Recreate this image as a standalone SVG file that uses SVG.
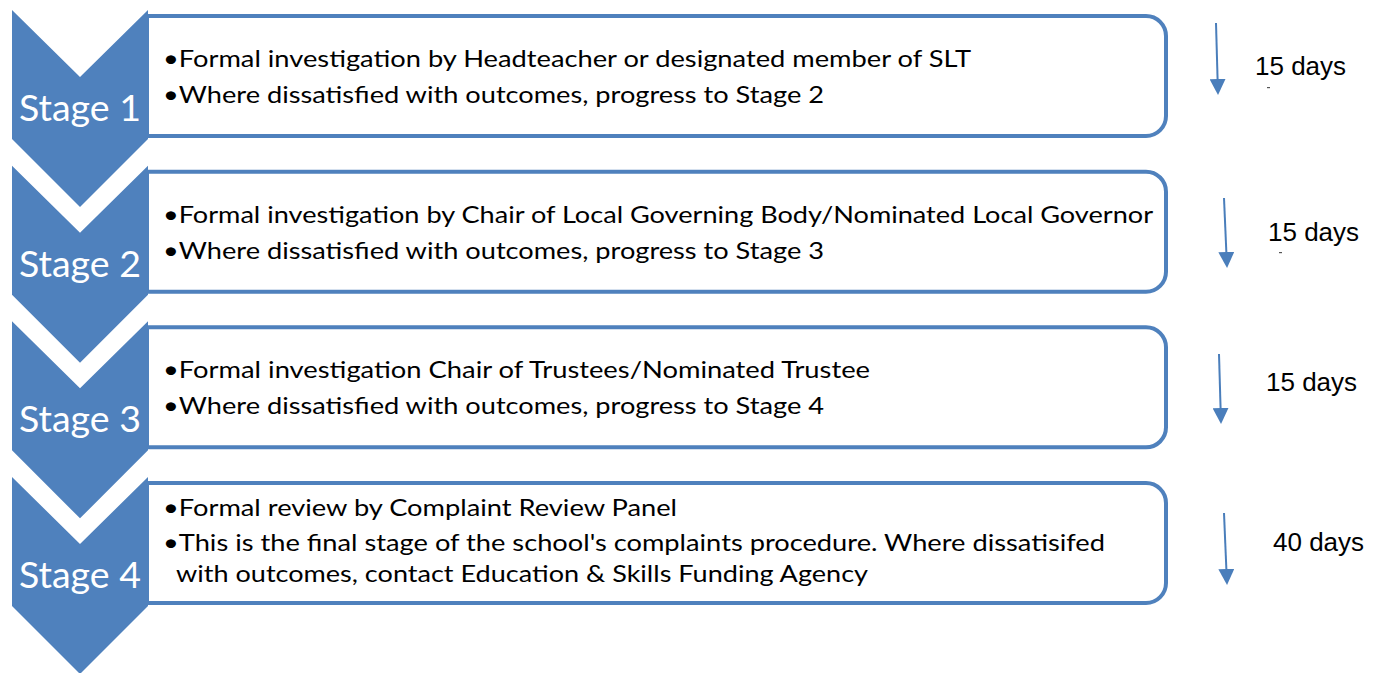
<svg xmlns="http://www.w3.org/2000/svg" xmlns:xlink="http://www.w3.org/1999/xlink" width="1378" height="673" viewBox="0 0 1378 673">
<style>
.chev{fill:#4F81BD;}
.box{fill:#FFFFFF;stroke:#4F81BD;stroke-width:4;}
.stage{font-family:Lato,"Open Sans",sans-serif;font-size:36px;fill:#FFFFFF;text-anchor:middle;}
.body{font-family:Lato,"Open Sans",sans-serif;font-size:24px;fill:#000000;}
.days{font-family:"Liberation Sans",Arial,sans-serif;font-size:26px;fill:#000000;}
.arr{stroke:#4A7EBB;stroke-width:2;fill:none;}
.dash{fill:#555555;}
</style>
<defs>
<path id="chevShape" d="M12,10 L80,77 L148,10 L148,139 L80,207 L12,139 Z"/>
<path id="boxShape" d="M147,16 H1146 A20,20 0 0 1 1166,36 V116 A20,20 0 0 1 1146,136 H147 Z"/>
<marker id="ah" markerUnits="userSpaceOnUse" markerWidth="16" markerHeight="16" refX="8" refY="8" orient="auto" viewBox="0 0 16 16">
<path d="M0,0 L16,8 L0,16 Z" fill="#4A7EBB"/>
</marker>
</defs>
<rect width="1378" height="673" fill="#FFFFFF"/>

<g id="stage1">
<use xlink:href="#boxShape" class="box"/>
<use xlink:href="#chevShape" class="chev"/>
<text class="stage" x="80" y="121" textLength="122" lengthAdjust="spacingAndGlyphs">Stage 1</text>
<text class="body" x="163" y="67" textLength="808" lengthAdjust="spacingAndGlyphs">•Formal investigation by Headteacher or designated member of SLT</text>
<text class="body" x="163" y="103" textLength="661" lengthAdjust="spacingAndGlyphs">•Where dissatisfied with outcomes, progress to Stage 2</text>
</g>

<g id="stage2" transform="translate(0,155.67)">
<use xlink:href="#boxShape" class="box"/>
<use xlink:href="#chevShape" class="chev"/>
<text class="stage" x="80" y="121" textLength="122" lengthAdjust="spacingAndGlyphs">Stage 2</text>
<text class="body" x="163" y="67" textLength="990" lengthAdjust="spacingAndGlyphs">•Formal investigation by Chair of Local Governing Body/Nominated Local Governor</text>
<text class="body" x="163" y="103" textLength="661" lengthAdjust="spacingAndGlyphs">•Where dissatisfied with outcomes, progress to Stage 3</text>
</g>

<g id="stage3" transform="translate(0,311.33)">
<use xlink:href="#boxShape" class="box"/>
<use xlink:href="#chevShape" class="chev"/>
<text class="stage" x="80" y="121" textLength="122" lengthAdjust="spacingAndGlyphs">Stage 3</text>
<text class="body" x="163" y="67" textLength="707" lengthAdjust="spacingAndGlyphs">•Formal investigation Chair of Trustees/Nominated Trustee</text>
<text class="body" x="163" y="103" textLength="661" lengthAdjust="spacingAndGlyphs">•Where dissatisfied with outcomes, progress to Stage 4</text>
</g>

<g id="stage4" transform="translate(0,467)">
<use xlink:href="#boxShape" class="box"/>
<use xlink:href="#chevShape" class="chev"/>
<text class="stage" x="80" y="121" textLength="122" lengthAdjust="spacingAndGlyphs">Stage 4</text>
<text class="body" x="163" y="49" textLength="514" lengthAdjust="spacingAndGlyphs">•Formal review by Complaint Review Panel</text>
<text class="body" x="163" y="84" textLength="942" lengthAdjust="spacingAndGlyphs">•This is the final stage of the school's complaints procedure. Where dissatisifed</text>
<text class="body" x="176" y="115" textLength="692" lengthAdjust="spacingAndGlyphs">with outcomes, contact Education &amp; Skills Funding Agency</text>
</g>

<g id="connectors">
<line class="arr" x1="1216" y1="23" x2="1217.8" y2="87" marker-end="url(#ah)"/>
<line class="arr" x1="1224" y1="198" x2="1226.7" y2="260" marker-end="url(#ah)"/>
<line class="arr" x1="1219" y1="354" x2="1220.8" y2="416" marker-end="url(#ah)"/>
<line class="arr" x1="1224" y1="513" x2="1226.7" y2="577" marker-end="url(#ah)"/>
</g>

<g id="durations">
<text class="days" x="1255" y="75">15 days</text>
<rect class="dash" x="1267" y="87" width="3" height="1.2"/>
<text class="days" x="1268" y="241">15 days</text>
<rect class="dash" x="1279" y="252" width="3" height="1.2"/>
<text class="days" x="1266" y="391">15 days</text>
<text class="days" x="1273" y="551">40 days</text>
</g>
</svg>
